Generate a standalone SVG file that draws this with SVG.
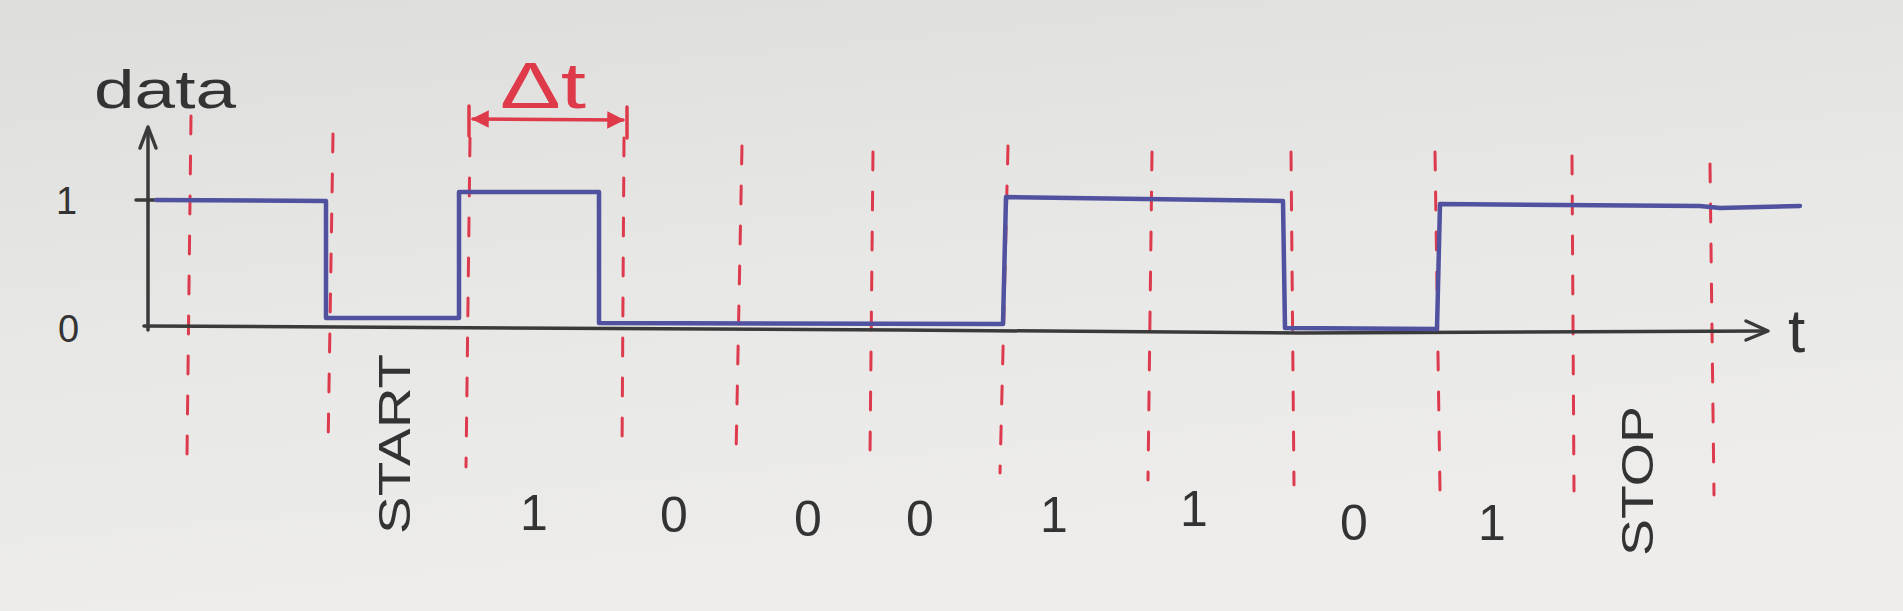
<svg xmlns="http://www.w3.org/2000/svg" width="1903" height="611" viewBox="0 0 1903 611">
<defs>
<linearGradient id="paper" x1="0" y1="0" x2="0.3" y2="1">
<stop offset="0" stop-color="#dddddb"/>
<stop offset="0.5" stop-color="#e7e7e5"/>
<stop offset="1" stop-color="#eeedeb"/>
</linearGradient>
<marker id="dtHead" viewBox="0 0 10 10" refX="9" refY="5" markerWidth="5" markerHeight="5" orient="auto-start-reverse" markerUnits="strokeWidth">
<path d="M0,0 L10,5 L0,10 Z" fill="#de3a4a"/>
</marker>
</defs>
<style>
.grid{stroke:#de3a4e;stroke-width:3;stroke-dasharray:18 22;fill:none;stroke-linecap:round}
.axis{stroke:#3a3a3a;stroke-width:3.5;fill:none;stroke-linecap:round;stroke-linejoin:round}
.sig{stroke:#5052a0;stroke-width:4.5;fill:none;stroke-linejoin:round;stroke-linecap:round}
.red{stroke:#de3a4a;stroke-width:3.5;fill:none;stroke-linecap:round}
.lbl{font-family:"Liberation Sans",Arial,sans-serif;fill:#333}
.rlbl{font-family:"Liberation Sans",Arial,sans-serif;fill:#de3a4a}
</style>
<rect x="0" y="0" width="1903" height="611" fill="url(#paper)"/>

<g id="gridlines">
<line class="grid" x1="191" y1="116" x2="187" y2="456"/>
<line class="grid" x1="333" y1="134" x2="328" y2="450"/>
<line class="grid" x1="470" y1="138" x2="466" y2="467"/>
<line class="grid" x1="624" y1="138" x2="622" y2="456"/>
<line class="grid" x1="742" y1="146" x2="736" y2="456"/>
<line class="grid" x1="873" y1="152" x2="870" y2="456"/>
<line class="grid" x1="1008" y1="146" x2="1000" y2="473"/>
<line class="grid" x1="1152" y1="152" x2="1148" y2="480"/>
<line class="grid" x1="1291" y1="152" x2="1294" y2="485"/>
<line class="grid" x1="1435" y1="152" x2="1440" y2="491"/>
<line class="grid" x1="1572" y1="156" x2="1574" y2="491"/>
<line class="grid" x1="1710" y1="164" x2="1714" y2="495"/>
</g>

<g id="axes">
<path class="axis" d="M148,330 L148,130"/>
<path class="axis" d="M140,148 L148,127 L156,148"/>
<path class="axis" d="M136,200 L166,200"/>
<path class="axis" d="M144,326 L900,330 L1300,333 L1766,331"/>
<path class="axis" d="M1746,321 L1768,331 L1746,340"/>
</g>

<g id="signal">
<path class="sig" d="M156,200 L326,201 L326,318 L459,318 L459,192 L599,192 L599,323 L1003,324 L1006,197 L1283,201 L1285,328 L1437,329 L1440,204 L1700,206 L1720,208 L1800,206"/>
</g>

<g id="delta-t">
<line class="red" x1="469" y1="106" x2="469" y2="136"/>
<line class="red" x1="627" y1="107" x2="627" y2="138"/>
<line class="red" x1="473" y1="119" x2="623" y2="120" marker-start="url(#dtHead)" marker-end="url(#dtHead)"/>
<text class="rlbl" x="500" y="108" font-size="64" textLength="86" lengthAdjust="spacingAndGlyphs">Δt</text>
</g>

<g id="labels">
<text class="lbl" x="94" y="108" font-size="54" textLength="142" lengthAdjust="spacingAndGlyphs">data</text>
<text class="lbl" x="56" y="214" font-size="38">1</text>
<text class="lbl" x="58" y="342" font-size="38">0</text>
<text class="lbl" x="1788" y="352" font-size="62">t</text>
<text class="lbl" font-size="44" transform="translate(410,534) rotate(-90)" textLength="180" lengthAdjust="spacingAndGlyphs">START</text>
<text class="lbl" font-size="44" transform="translate(1653,556) rotate(-90)" textLength="150" lengthAdjust="spacingAndGlyphs">STOP</text>
<text class="lbl" x="534" y="530" font-size="50" text-anchor="middle">1</text>
<text class="lbl" x="674" y="532" font-size="50" text-anchor="middle">0</text>
<text class="lbl" x="808" y="536" font-size="50" text-anchor="middle">0</text>
<text class="lbl" x="920" y="536" font-size="50" text-anchor="middle">0</text>
<text class="lbl" x="1054" y="532" font-size="50" text-anchor="middle">1</text>
<text class="lbl" x="1194" y="526" font-size="50" text-anchor="middle">1</text>
<text class="lbl" x="1354" y="540" font-size="50" text-anchor="middle">0</text>
<text class="lbl" x="1492" y="540" font-size="50" text-anchor="middle">1</text>
</g>
</svg>
